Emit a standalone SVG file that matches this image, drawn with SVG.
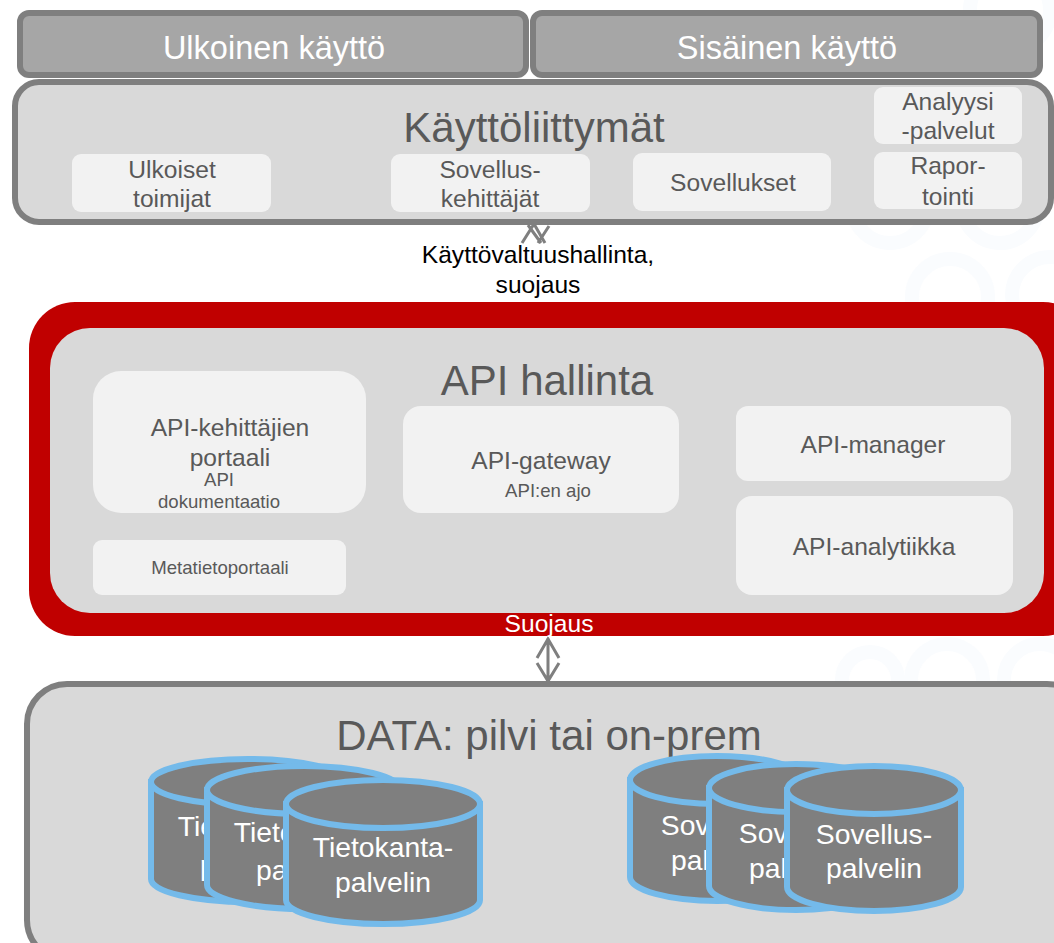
<svg xmlns="http://www.w3.org/2000/svg" width="1054" height="943" viewBox="0 0 1054 943">
<style>
text{font-family:"Liberation Sans",Arial,sans-serif;text-anchor:middle}
.g{fill:#595959}
.w{fill:#fff}
.k{fill:#000}
.head{fill:#a6a6a6;stroke:#7f7f7f;stroke-width:6}
.panel{fill:#d9d9d9;stroke:#7f7f7f;stroke-width:6}
.card{fill:#f2f2f2}
.cyl{fill:#7f7f7f;stroke:#74baea;stroke-width:6}
.conn{fill:none;stroke:#7f7f7f;stroke-width:3}
.wm{fill:none;stroke:#fafcfe;stroke-width:14}
.t1{font-size:32.5px}
.t2{font-size:42px}
.t3{font-size:24.6px}
.t4{font-size:18.6px}
.t5{font-size:28.3px}
</style>
<rect width="1054" height="943" fill="#fff"/>
<g id="watermark">
<circle cx="950" cy="297" r="38" class="wm"/><circle cx="1050" cy="295" r="38" class="wm"/><circle cx="890" cy="205" r="38" class="wm"/><circle cx="1000" cy="205" r="38" class="wm"/><circle cx="1010" cy="10" r="40" class="wm"/><circle cx="947" cy="680" r="36" class="wm"/><circle cx="1040" cy="680" r="36" class="wm"/><circle cx="870" cy="680" r="28" class="wm"/>
</g>
<g id="connectors">
<path class="conn" d="M522 243L534 224L545 243M528 225L541 243M549 226L538 243"/>
<path class="conn" d="M548 638V680M537 658L548 639L559 658M537 663L548 681L559 663"/>
</g>
<g id="ulkoinen"><rect class="head" x="20" y="13" width="506" height="62" rx="9"/><text class="w t1" x="274" y="59">Ulkoinen käyttö</text></g>
<g id="sisainen"><rect class="head" x="533" y="13" width="507" height="62" rx="9"/><text class="w t1" x="787" y="59">Sisäinen käyttö</text></g>
<g id="kayttoliittymat"><rect class="panel" x="15" y="82" width="1036" height="140" rx="24"/><text class="g t2" x="534" y="142">Käyttöliittymät</text></g>
<g id="ulkoiset"><rect class="card" x="72" y="154" width="199" height="58" rx="9"/><text class="g t3" x="172" y="178">Ulkoiset</text><text class="g t3" x="172" y="207">toimijat</text></g>
<g id="kehittajat"><rect class="card" x="391" y="154" width="199" height="58" rx="9"/><text class="g t3" x="490" y="178">Sovellus-</text><text class="g t3" x="490" y="207">kehittäjät</text></g>
<g id="sovellukset"><rect class="card" x="633" y="153" width="198" height="58" rx="9"/><text class="g t3" x="733" y="191">Sovellukset</text></g>
<g id="analyysi"><rect class="card" x="874" y="87" width="148" height="57" rx="9"/><text class="g t3" x="948" y="110">Analyysi</text><text class="g t3" x="948" y="139">-palvelut</text></g>
<g id="raportointi"><rect class="card" x="874" y="152" width="148" height="57" rx="9"/><text class="g t3" x="948" y="174">Rapor-</text><text class="g t3" x="948" y="205">tointi</text></g>
<g id="suojaus-label"><text class="k t3" x="538" y="263">Käyttövaltuushallinta,</text><text class="k t3" x="538" y="293">suojaus</text></g>
<g id="api-hallinta">
<rect x="29" y="302" width="1060" height="334" rx="46" fill="#c00000"/>
<rect x="50" y="328" width="994" height="285" rx="40" fill="#d9d9d9"/>
<text class="g t2" x="547" y="395">API hallinta</text>
<text class="w t3" x="549" y="632">Suojaus</text>
</g>
<g id="portaali"><rect class="card" x="93" y="371" width="273" height="142" rx="28"/><text class="g t3" x="230" y="436">API-kehittäjien</text><text class="g t3" x="230" y="466">portaali</text><text class="g t4" x="219" y="486">API</text><text class="g t4" x="219" y="508">dokumentaatio</text></g>
<g id="metatieto"><rect class="card" x="93" y="540" width="253" height="55" rx="9"/><text class="g t4" x="220" y="574">Metatietoportaali</text></g>
<g id="gateway"><rect class="card" x="403" y="406" width="276" height="107" rx="18"/><text class="g t3" x="541" y="469">API-gateway</text><text class="g t4" x="548" y="497">API:en ajo</text></g>
<g id="manager"><rect class="card" x="736" y="406" width="275" height="75" rx="12"/><text class="g t3" x="873" y="453">API-manager</text></g>
<g id="analytiikka"><rect class="card" x="736" y="496" width="277" height="99" rx="16"/><text class="g t3" x="874" y="555">API-analytiikka</text></g>
<g id="data"><rect class="panel" x="27" y="684" width="1060" height="276" rx="40"/><text class="g t2" x="549" y="750">DATA: pilvi tai on-prem</text></g>
<g id="db1"><path class="cyl" d="M151 782V879A97 23 0 0 0 345 879V782Z"/><ellipse class="cyl" cx="248" cy="782" rx="97" ry="23"/><text class="w t5" x="248" y="836">Tietokanta-</text><text class="w t5" x="248" y="875">palvelin</text></g>
<g id="db2"><path class="cyl" d="M207 790V885A97 24 0 0 0 401 885V790Z"/><ellipse class="cyl" cx="304" cy="790" rx="97" ry="24"/><text class="w t5" x="304" y="842">Tietokanta-</text><text class="w t5" x="304" y="880">palvelin</text></g>
<g id="db3"><path class="cyl" d="M286 804V900A97 24 0 0 0 480 900V804Z"/><ellipse class="cyl" cx="383" cy="804" rx="97" ry="24"/><text class="w t5" x="383" y="857">Tietokanta-</text><text class="w t5" x="383" y="892">palvelin</text></g>
<g id="app1"><path class="cyl" d="M630 780V877A87 24 0 0 0 804 877V780Z"/><ellipse class="cyl" cx="717" cy="780" rx="87" ry="24"/><text class="w t5" x="719" y="835">Sovellus-</text><text class="w t5" x="719" y="870">palvelin</text></g>
<g id="app2"><path class="cyl" d="M709 788V886A87 24 0 0 0 883 886V788Z"/><ellipse class="cyl" cx="796" cy="788" rx="87" ry="24"/><text class="w t5" x="797" y="843">Sovellus-</text><text class="w t5" x="797" y="878">palvelin</text></g>
<g id="app3"><path class="cyl" d="M787 790V887A87 24 0 0 0 961 887V790Z"/><ellipse class="cyl" cx="874" cy="790" rx="87" ry="24"/><text class="w t5" x="874" y="844">Sovellus-</text><text class="w t5" x="874" y="878">palvelin</text></g>
</svg>
